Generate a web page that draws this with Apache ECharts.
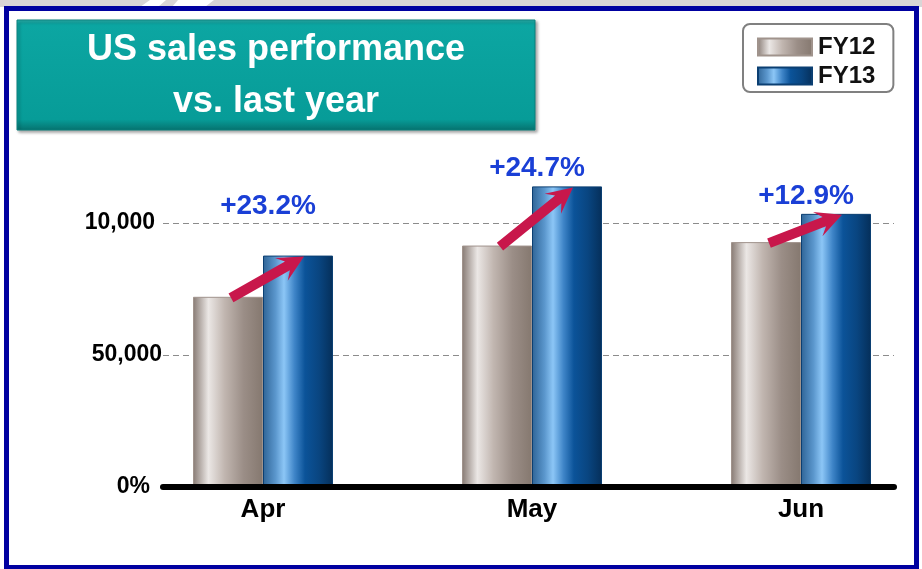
<!DOCTYPE html>
<html>
<head>
<meta charset="utf-8">
<title>US sales performance</title>
<script src="https://cdn.jsdelivr.net/npm/echarts@6/dist/echarts.min.js"></script>
<style>
    html, body { margin: 0; padding: 0; background: #fff; }
    #chart { width: 922px; height: 569px; }
</style>
</head>
<body>
<div id="chart"></div>
<script>
// chart data
var months = ['Apr', 'May', 'Jun'];
var fy12 = [72000, 91400, 92700];
var fy13 = [87600, 113800, 103400];
var growthLabels = ['+23.2%', '+24.7%', '+12.9%'];
var yTickValues = [0, 50000, 100000];
var yTickLabels = ['0%', '50,000', '10,000'];

var font = '"Liberation Sans", Arial, Helvetica, sans-serif';

var grayBar = {
    type: 'linear', x: 0, y: 0, x2: 1, y2: 0,
    colorStops: [
        {offset: 0, color: '#877a73'},
        {offset: 0.22, color: '#ebe7e5'},
        {offset: 0.45, color: '#c1b6b0'},
        {offset: 0.72, color: '#9b8e87'},
        {offset: 1, color: '#85786f'}
    ]
};
var blueBar = {
    type: 'linear', x: 0, y: 0, x2: 1, y2: 0,
    colorStops: [
        {offset: 0, color: '#2f6496'},
        {offset: 0.18, color: '#5b97cd'},
        {offset: 0.3, color: '#8cc6f6'},
        {offset: 0.45, color: '#3f85c8'},
        {offset: 0.6, color: '#0b5399'},
        {offset: 0.8, color: '#094580'},
        {offset: 1, color: '#052f5a'}
    ]
};

// arrow from FY12 bar top to FY13 bar top
function renderArrow(params, api) {
    var i = api.value(0);
    var from = api.coord([i, api.value(1)]);
    var to = api.coord([i, api.value(2)]);
    var x0 = from[0] - 32, y0 = from[1] + 1;
    var x1 = to[0] + 41, y1 = to[1] + 1;
    var dx = x1 - x0, dy = y1 - y0;
    var len = Math.sqrt(dx * dx + dy * dy);
    var ux = dx / len, uy = dy / len;
    var nx = -uy, ny = ux;
    var hw = 5, hh = 13, headLen = 26, neckLen = 19;
    var bx = x1 - ux * headLen, by = y1 - uy * headLen;
    var kx = x1 - ux * neckLen, ky = y1 - uy * neckLen;
    var pts = [
        [x0 + nx * hw, y0 + ny * hw],
        [kx + nx * hw, ky + ny * hw],
        [bx + nx * hh, by + ny * hh],
        [x1, y1],
        [bx - nx * hh, by - ny * hh],
        [kx - nx * hw, ky - ny * hw],
        [x0 - nx * hw, y0 - ny * hw]
    ];
    return {
        type: 'polygon',
        shape: {points: pts},
        style: {fill: '#c8174b'}
    };
}

var chart = echarts.init(document.getElementById('chart'));

var option = {
    backgroundColor: '#fff',
    animation: false,
    textStyle: {fontFamily: font},
    graphic: [
        {type: 'rect', z: -10, shape: {x: 0, y: 0, width: 922, height: 7}, style: {fill: '#d9d5d6'}},
        {type: 'polygon', z: -9, shape: {points: [[140, 7], [150, 0], [166, 0], [158, 7]]}, style: {fill: '#fff'}},
        {type: 'polygon', z: -9, shape: {points: [[172, 7], [178, 0], [214, 0], [205, 7]]}, style: {fill: '#fff'}},
        {type: 'rect', z: -8, shape: {x: 6.5, y: 8.5, width: 910, height: 559}, style: {fill: '#fff', stroke: '#0000a0', lineWidth: 5}},
        {
            type: 'rect', z: 10,
            shape: {x: 17, y: 20, width: 518, height: 110},
            style: {
                fill: {
                    type: 'linear', x: 0, y: 0, x2: 0, y2: 1,
                    colorStops: [
                        {offset: 0, color: '#2db3af'},
                        {offset: 0.04, color: '#0ca6a2'},
                        {offset: 0.9, color: '#079c98'},
                        {offset: 1, color: '#06716e'}
                    ]
                },
                stroke: '#0a807d', lineWidth: 1,
                shadowColor: 'rgba(0,0,0,0.35)', shadowBlur: 3, shadowOffsetX: 2, shadowOffsetY: 2
            }
        },
        {
            type: 'text', z: 11,
            style: {
                text: 'US sales performance\nvs. last year',
                x: 276, y: 76,
                align: 'center', verticalAlign: 'middle',
                fill: '#fff', fontSize: 36, fontWeight: 'bold', lineHeight: 52,
                fontFamily: font
            }
        }
    ],
    legend: {
        data: ['FY12', 'FY13'],
        orient: 'vertical',
        left: 743, top: 24,
        padding: [11, 18, 4, 14],
        itemWidth: 54, itemHeight: 17, itemGap: 5,
        icon: 'rect',
        borderColor: '#808080', borderWidth: 2, borderRadius: 7,
        backgroundColor: '#fff',
        textStyle: {fontSize: 24, lineHeight: 20, fontWeight: 'bold', color: '#111', fontFamily: font, padding: [0, 0, 0, 1]}
    },
    grid: [
        {left: 163, right: 28, top: 170, bottom: 82, outerBoundsMode: 'none'},
        {left: 128.5, width: 807, top: 170, bottom: 82, outerBoundsMode: 'none'}
    ],
    xAxis: [
        {
            gridIndex: 0, type: 'category', data: months, z: 5,
            axisLine: {lineStyle: {color: '#000', width: 6}},
            axisTick: {show: false}, axisLabel: {show: false}, splitLine: {show: false}
        },
        {
            gridIndex: 1, type: 'category', data: months,
            axisLine: {show: false}, axisTick: {show: false}, splitLine: {show: false},
            axisLabel: {margin: 10, fontSize: 26, fontWeight: 'bold', color: '#000', fontFamily: font}
        }
    ],
    yAxis: [
        {
            gridIndex: 0, type: 'value', min: 0, max: 120000, interval: 50000,
            axisLine: {show: false}, axisTick: {show: false},
            splitLine: {show: true, showMinLine: false, showMaxLine: false,
                lineStyle: {color: '#8c8c8c', type: [6, 4], width: 1}},
            axisLabel: {
                margin: 0,
                formatter: function (v) {
                    var idx = yTickValues.indexOf(v);
                    return idx < 0 ? '' : '{t' + idx + '|' + yTickLabels[idx] + '}';
                },
                rich: {
                    t0: {fontSize: 23, fontWeight: 'bold', color: '#000', fontFamily: font, padding: [0, 13, 0, 0]},
                    t1: {fontSize: 23, fontWeight: 'bold', color: '#000', fontFamily: font, padding: [0, 1, 0, 0]},
                    t2: {fontSize: 23, fontWeight: 'bold', color: '#000', fontFamily: font, padding: [0, 8, 0, 0]}
                }
            }
        },
        {gridIndex: 1, type: 'value', min: 0, max: 120000, show: false, splitLine: {show: false}}
    ],
    series: [
        {
            name: 'FY12', type: 'bar', xAxisIndex: 1, yAxisIndex: 1,
            barWidth: 70, barGap: '0%',
            itemStyle: {color: grayBar, borderColor: '#a0938c', borderWidth: 1},
            data: fy12
        },
        {
            name: 'FY13', type: 'bar', xAxisIndex: 1, yAxisIndex: 1,
            barWidth: 70,
            itemStyle: {color: blueBar, borderColor: '#0b3f72', borderWidth: 1},
            label: {
                show: true, position: 'top', distance: 4, offset: [-30, 0],
                formatter: function (p) { return growthLabels[p.dataIndex]; },
                color: '#1a3fd6', fontSize: 28, fontWeight: 'bold', fontFamily: font
            },
            data: fy13.map(function (v, i) {
                // the Apr label sits higher in the original
                return i === 0 ? {value: v, label: {offset: [-30, -31]}} : v;
            })
        },
        {
            type: 'custom', xAxisIndex: 1, yAxisIndex: 1, z: 6,
            renderItem: renderArrow,
            encode: {x: 0, y: [1, 2]},
            data: months.map(function (m, i) { return [i, fy12[i], fy13[i]]; })
        }
    ]
};

chart.setOption(option);
</script>
</body>
</html>
